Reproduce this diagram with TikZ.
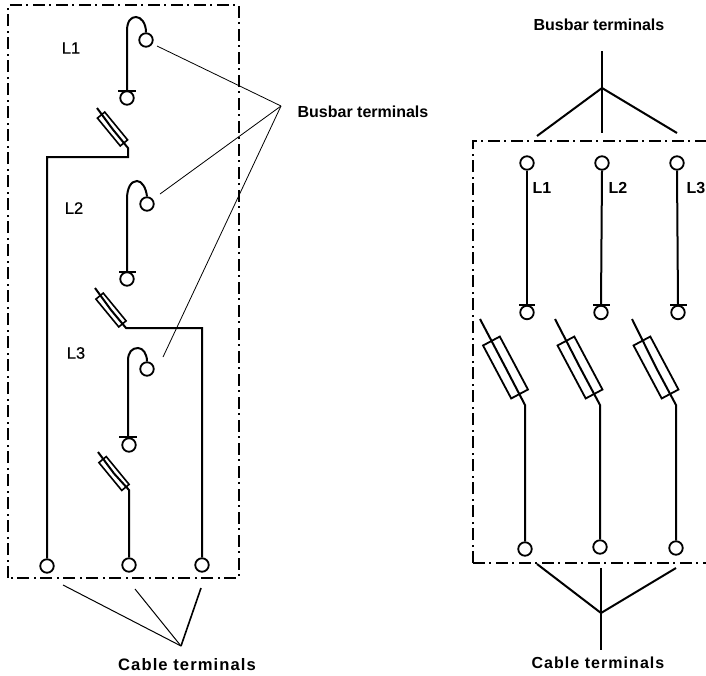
\documentclass[tikz,border=0pt]{standalone}
\usepackage{fontspec}
\setmainfont{Liberation Sans}
\newfontfamily\spacedbold[LetterSpace=6.5]{Liberation Sans Bold}
\newfontfamily\medfont[FakeBold=0.6]{Liberation Sans}
\begin{document}
\begin{tikzpicture}[x=1pt,y=-1pt,
  wire/.style={draw=black,line width=2pt,line join=miter},
  thinwire/.style={draw=black,line width=0.8pt},
  frameline/.style={draw=black,line width=1.9pt,dash pattern=on 12pt off 4pt on 2pt off 5pt},
  term/.style={circle,draw=black,fill=white,line width=1.8pt,minimum size=13.5pt,inner sep=0pt},
  fuseA/.style={rectangle,draw=black,fill=none,line width=1.6pt,minimum width=36pt,minimum height=9.5pt,inner sep=0pt,rotate=-50.6},
  fuseB/.style={rectangle,draw=black,fill=none,line width=1.8pt,minimum width=60pt,minimum height=19pt,inner sep=0pt,rotate=-62},
  lbl/.style={font=\fontsize{16.5}{18}\medfont,inner sep=0pt},
  blbl/.style={font=\fontsize{16}{18}\selectfont\bfseries,inner sep=0pt},
  cbl/.style={font=\fontsize{16}{18}\spacedbold,inner sep=0pt},
  cblb/.style={font=\fontsize{16.6}{18}\spacedbold,inner sep=0pt}]
\useasboundingbox (0,0) rectangle (706,675);
\fill[white] (0,0) rectangle (706,675);

% frames
\draw[frameline] (8,578) -- (8,5) -- (239,5) -- (239,578) -- cycle;
\draw[frameline] (473,563) -- (473,141) -- (706,141);
\draw[frameline] (473,563) -- (706,563);

% LEFT: phase 1
\node[term] (a1) at (146,40) {};
\node[term] (b1) at (127,98) {};
\coordinate (bar1l) at (118,91); \coordinate (bar1r) at (136,91);
\coordinate (bar1) at (127,91);
\draw[wire] (bar1l) -- (bar1r);
\draw[wire] (bar1) -- (127,31) .. controls (127,21) and (131,17) .. (136,17)
   .. controls (141,17) and (146,23) .. (a1.north);
\node[fuseA] (f1) at (112.5,129) {};
\coordinate (tip1) at (97,108);
\node[term] (c1) at (47,566) {};
\draw[wire] (tip1) -- (f1.center) -- (128,148) -- (128,157) -- (47,157) -- (c1.north);

% LEFT: phase 2
\node[term] (a2) at (147,204) {};
\node[term] (b2) at (127,279) {};
\coordinate (bar2l) at (119,272); \coordinate (bar2r) at (136,272);
\coordinate (bar2) at (127,272);
\draw[wire] (bar2l) -- (bar2r);
\draw[wire] (bar2) -- (127,199) .. controls (127,188) and (131,181) .. (137,181)
   .. controls (142,181) and (146,188) .. (a2.north);
\node[fuseA] (f2) at (111,310) {};
\coordinate (tip2) at (95,288);
\node[term] (c3) at (202,565) {};
\draw[wire] (tip2) -- (f2.center) -- (126,328) -- (202,328) -- (c3.north);

% LEFT: phase 3
\node[term] (a3) at (147,369) {};
\node[term] (b3) at (129,445) {};
\coordinate (bar3l) at (119,437); \coordinate (bar3r) at (137,437);
\coordinate (bar3) at (128,437);
\draw[wire] (bar3l) -- (bar3r);
\draw[wire] (bar3) -- (128,361) .. controls (128,352) and (132,348) .. (138,348)
   .. controls (143,348) and (147,354) .. (a3.north);
\node[fuseA] (f3) at (114,473.5) {};
\coordinate (tip3) at (98,452);
\node[term] (c2) at (129,565) {};
\draw[wire] (tip3) -- (f3.center) -- (129,490) -- (c2.north);

% LEFT: labels
\node[lbl] (l1) at (71,48) {L1};
\node[lbl] (l2) at (74,208) {L2};
\node[lbl] (l3) at (76,353) {L3};
\node[blbl] (bus1) at (363,112) {Busbar terminals};
\node[cblb] (cab1) at (187,665) {Cable terminals};

% LEFT: leaders
\coordinate (busj) at (281,106);
\coordinate (lead1) at (157,46);
\coordinate (lead2) at (160,194);
\coordinate (lead3) at (163,357);
\draw[thinwire] (lead1) -- (busj);
\draw[thinwire] (lead2) -- (busj);
\draw[thinwire] (lead3) -- (busj);
\coordinate (cabj) at (181,646);
\coordinate (clead1) at (63,585);
\coordinate (clead2) at (135,589);
\coordinate (clead3) at (201,588);
\draw[thinwire,line width=1pt] (clead1) -- (cabj);
\draw[thinwire,line width=1pt] (clead2) -- (cabj);
\draw[wire,line width=1.6pt] (clead3) -- (cabj);

% RIGHT: top bundle
\node[blbl] (bus2) at (599,25) {Busbar terminals};
\coordinate (rt) at (602,51);
\coordinate (rtm) at (602,133);
\coordinate (rtj) at (602,88);
\coordinate (rtl) at (537,136);
\coordinate (rtr) at (677,133);
\draw[wire] (rt) -- (rtm);
\draw[wire] (rtl) -- (rtj) -- (rtr);

% RIGHT: phases
\foreach \n/\tx/\bx/\barl/\barr/\fx/\tipx/\botx/\cx/\cy in {
  1/527/527/519/535/505.5/480/525/525/549,
  2/602/601/593/610/580/555/600/600/547,
  3/677/678/670/687/656/632/676/676/548}{
  \node[term] (rA\n) at (\tx,163) {};
  \node[term] (rB\n) at (\bx,312.5) {};
  \coordinate (rbar\n) at (\bx,305);
  \draw[wire] (\barl,305) -- (\barr,305);
  \draw[wire] (rA\n.south) -- (rbar\n);
  \node[fuseB] (rF\n) at (\fx,367.5) {};
  \coordinate (rtip\n) at (\tipx,319);
  \node[term] (rC\n) at (\cx,\cy) {};
  \draw[wire] (rtip\n) -- (rF\n.center) -- (\botx,405) -- (rC\n.north);
}
\node[blbl] (rl1) at (542,188) {L1};
\node[blbl] (rl2) at (618,188) {L2};
\node[blbl] (rl3) at (696,188) {L3};

% RIGHT: bottom bundle
\coordinate (rbt) at (601,568);
\coordinate (rbb) at (601,650);
\coordinate (rbj) at (601,613);
\coordinate (rbl) at (537,564);
\coordinate (rbr) at (676,568);
\draw[wire] (rbt) -- (rbb);
\draw[wire] (rbl) -- (rbj) -- (rbr);
\node[cbl] (cab2) at (598,663) {Cable terminals};
\end{tikzpicture}
\end{document}
